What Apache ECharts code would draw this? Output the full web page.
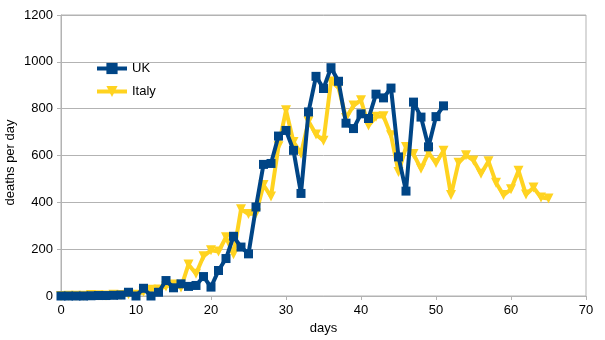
<!DOCTYPE html>
<html>
<head>
<meta charset="utf-8">
<script src="https://cdn.jsdelivr.net/npm/echarts@6/dist/echarts.min.js"></script>
<style>
html,body{margin:0;padding:0;background:#fff;}
#chart{width:605px;height:340px;}
</style>
</head>
<body>
<div id="chart"></div>
<script>
// day index 0..n
var ukDeaths = [0,0,0,0,1,2,2,3,4,16,0,33,0,16,66,35,52,41,45,83,38,109,160,255,209,180,
  380,562,566,683,707,622,438,786,938,886,975,917,738,715,778,758,862,846,888,594,448,828,764,637,766,812];
var italyDeaths = [0,1,1,1,4,3,2,5,4,8,5,18,27,28,41,49,36,135,95,170,195,190,251,178,370,350,
  352,474,425,640,793,658,608,746,690,663,916,890,760,813,836,728,765,768,687,530,636,606,543,612,568,620,431,569,
  601,579,522,575,484,431,456,535,433,463,421,416];
var xTicks = {min:0, max:70, interval:10};
var yTicks = {min:0, max:1200, interval:200};

function pairs(arr){ return arr.map(function(v,i){ return [i, v]; }); }

var chart = echarts.init(document.getElementById('chart'), null, {renderer:'canvas'});
var font = 'Liberation Sans, Arial, sans-serif';
chart.setOption({
  animation:false,
  backgroundColor:'#ffffff',
  textStyle:{fontFamily:font},
  grid:{left:61, right:19, top:15, bottom:44, containLabel:false, outerBoundsMode:'none',
        show:true, borderColor:'#b3b3b3', borderWidth:1},
  legend:{
    data:['UK','Italy'],
    orient:'vertical',
    left:95, top:62, padding:0,
    itemWidth:30, itemHeight:14, itemGap:10,
    lineStyle:{width:4},
    textStyle:{fontFamily:font, fontSize:13, color:'#000'},
  },
  xAxis:{
    type:'value', min:xTicks.min, max:xTicks.max, interval:xTicks.interval,
    name:'days', nameLocation:'middle', nameGap:26, nameMoveOverlap:false,
    nameTextStyle:{fontFamily:font, fontSize:13, color:'#000'},
    axisLine:{show:true, lineStyle:{color:'#b3b3b3', width:1}},
    axisTick:{show:true, length:4, lineStyle:{color:'#b3b3b3'}},
    axisLabel:{fontFamily:font, fontSize:13, color:'#000', margin:8, formatter:function(v){return String(v);}},
    splitLine:{show:false}
  },
  yAxis:{
    type:'value', min:yTicks.min, max:yTicks.max, interval:yTicks.interval,
    name:'deaths per day', nameLocation:'middle', nameGap:44, nameMoveOverlap:false,
    nameTextStyle:{fontFamily:font, fontSize:13, color:'#000', padding:[0,14,0,0]},
    axisLine:{show:true, lineStyle:{color:'#b3b3b3', width:1}},
    axisTick:{show:true, length:4, lineStyle:{color:'#b3b3b3'}},
    axisLabel:{fontFamily:font, fontSize:13, color:'#000', margin:8, formatter:function(v){return String(v);}},
    splitLine:{show:true, lineStyle:{color:'#b3b3b3', width:1}}
  },
  series:[
    {
      name:'Italy', type:'line', data:pairs(italyDeaths),
      symbol:'triangle', symbolRotate:180, symbolSize:10, showAllSymbol:true,
      itemStyle:{color:'#ffd320'},
      lineStyle:{color:'#ffd320', width:4},
      z:2
    },
    {
      name:'UK', type:'line', data:pairs(ukDeaths),
      symbol:'rect', symbolSize:9, showAllSymbol:true,
      itemStyle:{color:'#004586'},
      lineStyle:{color:'#004586', width:4},
      z:3
    }
  ]
});
</script>
</body>
</html>
